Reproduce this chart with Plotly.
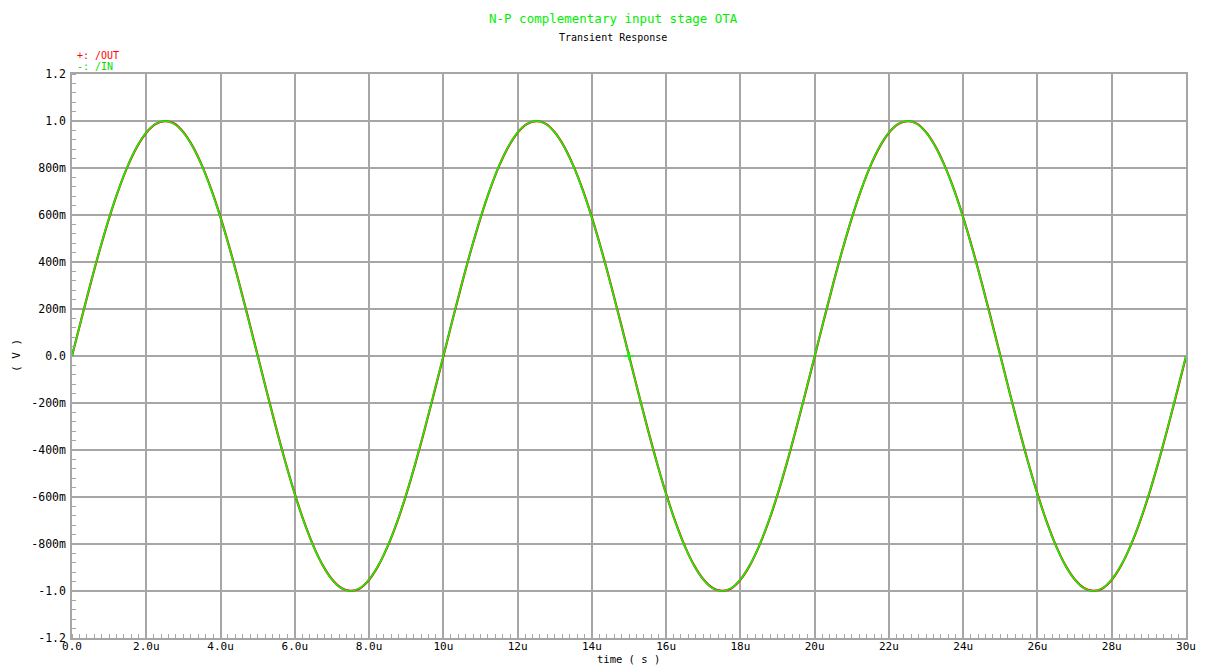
import plotly.graph_objects as go

# time in microseconds (read every 0.25u)
time_us = [0.0, 0.25, 0.5, 0.75, 1.0, 1.25, 1.5, 1.75, 2.0, 2.25,
           2.5, 2.75, 3.0, 3.25, 3.5, 3.75, 4.0, 4.25, 4.5, 4.75,
           5.0, 5.25, 5.5, 5.75, 6.0, 6.25, 6.5, 6.75, 7.0, 7.25,
           7.5, 7.75, 8.0, 8.25, 8.5, 8.75, 9.0, 9.25, 9.5, 9.75,
           10.0, 10.25, 10.5, 10.75, 11.0, 11.25, 11.5, 11.75, 12.0, 12.25,
           12.5, 12.75, 13.0, 13.25, 13.5, 13.75, 14.0, 14.25, 14.5, 14.75,
           15.0, 15.25, 15.5, 15.75, 16.0, 16.25, 16.5, 16.75, 17.0, 17.25,
           17.5, 17.75, 18.0, 18.25, 18.5, 18.75, 19.0, 19.25, 19.5, 19.75,
           20.0, 20.25, 20.5, 20.75, 21.0, 21.25, 21.5, 21.75, 22.0, 22.25,
           22.5, 22.75, 23.0, 23.25, 23.5, 23.75, 24.0, 24.25, 24.5, 24.75,
           25.0, 25.25, 25.5, 25.75, 26.0, 26.25, 26.5, 26.75, 27.0, 27.25,
           27.5, 27.75, 28.0, 28.25, 28.5, 28.75, 29.0, 29.25, 29.5, 29.75,
           30.0]

v_in = [0.000, 0.156, 0.309, 0.454, 0.588, 0.707, 0.809, 0.891, 0.951, 0.988,
        1.000, 0.988, 0.951, 0.891, 0.809, 0.707, 0.588, 0.454, 0.309, 0.156,
        0.000, -0.156, -0.309, -0.454, -0.588, -0.707, -0.809, -0.891, -0.951, -0.988,
        -1.000, -0.988, -0.951, -0.891, -0.809, -0.707, -0.588, -0.454, -0.309, -0.156,
        0.000, 0.156, 0.309, 0.454, 0.588, 0.707, 0.809, 0.891, 0.951, 0.988,
        1.000, 0.988, 0.951, 0.891, 0.809, 0.707, 0.588, 0.454, 0.309, 0.156,
        0.000, -0.156, -0.309, -0.454, -0.588, -0.707, -0.809, -0.891, -0.951, -0.988,
        -1.000, -0.988, -0.951, -0.891, -0.809, -0.707, -0.588, -0.454, -0.309, -0.156,
        0.000, 0.156, 0.309, 0.454, 0.588, 0.707, 0.809, 0.891, 0.951, 0.988,
        1.000, 0.988, 0.951, 0.891, 0.809, 0.707, 0.588, 0.454, 0.309, 0.156,
        0.000, -0.156, -0.309, -0.454, -0.588, -0.707, -0.809, -0.891, -0.951, -0.988,
        -1.000, -0.988, -0.951, -0.891, -0.809, -0.707, -0.588, -0.454, -0.309, -0.156,
        0.000]

v_out = [0.000, 0.155, 0.308, 0.453, 0.587, 0.706, 0.808, 0.890, 0.950, 0.987,
         0.999, 0.989, 0.952, 0.892, 0.810, 0.709, 0.590, 0.456, 0.311, 0.158,
         0.002, -0.155, -0.308, -0.453, -0.587, -0.706, -0.808, -0.890, -0.950, -0.987,
         -0.999, -0.989, -0.952, -0.892, -0.810, -0.709, -0.590, -0.456, -0.311, -0.158,
         -0.002, 0.155, 0.308, 0.453, 0.587, 0.706, 0.808, 0.890, 0.950, 0.987,
         0.999, 0.989, 0.952, 0.892, 0.810, 0.709, 0.590, 0.456, 0.311, 0.158,
         0.002, -0.155, -0.308, -0.453, -0.587, -0.706, -0.808, -0.890, -0.950, -0.987,
         -0.999, -0.989, -0.952, -0.892, -0.810, -0.709, -0.590, -0.456, -0.311, -0.158,
         -0.002, 0.155, 0.308, 0.453, 0.587, 0.706, 0.808, 0.890, 0.950, 0.987,
         0.999, 0.989, 0.952, 0.892, 0.810, 0.709, 0.590, 0.456, 0.311, 0.158,
         0.002, -0.155, -0.308, -0.453, -0.587, -0.706, -0.808, -0.890, -0.950, -0.987,
         -0.999, -0.989, -0.952, -0.892, -0.810, -0.709, -0.590, -0.456, -0.311, -0.158,
         -0.002]

x_tickvals = [0, 2, 4, 6, 8, 10, 12, 14, 16, 18, 20, 22, 24, 26, 28, 30]
x_ticktext = ["0.0", "2.0u", "4.0u", "6.0u", "8.0u", "10u", "12u", "14u", "16u",
              "18u", "20u", "22u", "24u", "26u", "28u", "30u"]
y_tickvals = [1.2, 1.0, 0.8, 0.6, 0.4, 0.2, 0.0, -0.2, -0.4, -0.6, -0.8, -1.0, -1.2]
y_ticktext = ["1.2", "1.0", "800m", "600m", "400m", "200m", "0.0",
              "-200m", "-400m", "-600m", "-800m", "-1.0", "-1.2"]

marker_t = [15.0]
marker_v = [0.0]

FONT = "DejaVu Sans Mono"
GRID = "#a6a6a6"
L, R, T, B = 72, 24, 74, 28
PW, PH = 1210 - L - R, 666 - T - B

fig = go.Figure()
fig.add_trace(go.Scatter(x=time_us, y=v_out, mode="lines", name="/OUT",
                         line=dict(color="#ff0000", width=2.2, shape="spline", smoothing=1.0)))
fig.add_trace(go.Scatter(x=time_us, y=v_in, mode="lines", name="/IN",
                         line=dict(color="#00ff00", width=1.6, shape="spline", smoothing=1.0)))
fig.add_trace(go.Scatter(x=marker_t, y=marker_v, mode="markers", showlegend=False,
                         marker=dict(symbol="cross-thin", size=6, line=dict(color="#00ff00", width=1.5))))

fig.update_layout(
    width=1210, height=666,
    margin=dict(l=L, r=R, t=T, b=B),
    paper_bgcolor="white", plot_bgcolor="white",
    showlegend=False,
    font=dict(family=FONT, size=11, color="black"),
)

fig.update_xaxes(
    range=[0, 30], tickvals=x_tickvals, ticktext=x_ticktext, automargin=False,
    showgrid=True, gridcolor=GRID, gridwidth=1.5,
    showline=True, linecolor=GRID, linewidth=1.5, mirror=True,
    ticks="", ticklabelstandoff=-3, zeroline=False,
    tickfont=dict(family=FONT, size=11, color="black"),
    minor=dict(dtick=0.2, tick0=0, ticks="inside", ticklen=4, tickcolor=GRID, tickwidth=1, showgrid=False),
)
fig.update_yaxes(
    range=[-1.2, 1.2], tickvals=y_tickvals, ticktext=y_ticktext, automargin=False,
    showgrid=True, gridcolor=GRID, gridwidth=1.5,
    showline=True, linecolor=GRID, linewidth=1.5, mirror=True,
    ticks="", ticklabelstandoff=2, zeroline=False,
    tickfont=dict(family=FONT, size=11.5, color="black"),
    minor=dict(dtick=0.04, tick0=0, ticks="inside", ticklen=4, tickcolor=GRID, tickwidth=1, showgrid=False),
)

def px_x(px):
    return (px - L) / PW

def px_y(py):
    return 1 - (py - T) / PH

fig.add_annotation(text="( V )", xref="paper", yref="paper", x=px_x(16), y=px_y(356),
                   xanchor="center", yanchor="middle", showarrow=False, textangle=-90,
                   font=dict(family=FONT, size=11, color="black"))
fig.add_annotation(text="time ( s )", xref="paper", yref="paper", x=px_x(628), y=px_y(659),
                   xanchor="center", yanchor="middle", showarrow=False,
                   font=dict(family=FONT, size=10.5, color="black"))
fig.add_annotation(text="N-P complementary input stage OTA", xref="paper", yref="paper",
                   x=px_x(613), y=px_y(18), xanchor="center", yanchor="middle",
                   showarrow=False, font=dict(family=FONT, size=12.5, color="#00ee00"))
fig.add_annotation(text="Transient Response", xref="paper", yref="paper",
                   x=px_x(613), y=px_y(37), xanchor="center", yanchor="middle",
                   showarrow=False, font=dict(family=FONT, size=10, color="black"))
fig.add_annotation(text="+: /OUT", xref="paper", yref="paper",
                   x=px_x(75), y=px_y(55), xanchor="left", yanchor="middle",
                   showarrow=False, font=dict(family=FONT, size=10, color="#ff0000"))
fig.add_annotation(text="-: /IN", xref="paper", yref="paper",
                   x=px_x(75), y=px_y(67), xanchor="left", yanchor="middle",
                   showarrow=False, font=dict(family=FONT, size=10, color="#00dd00"))

fig.write_html("out.html")
